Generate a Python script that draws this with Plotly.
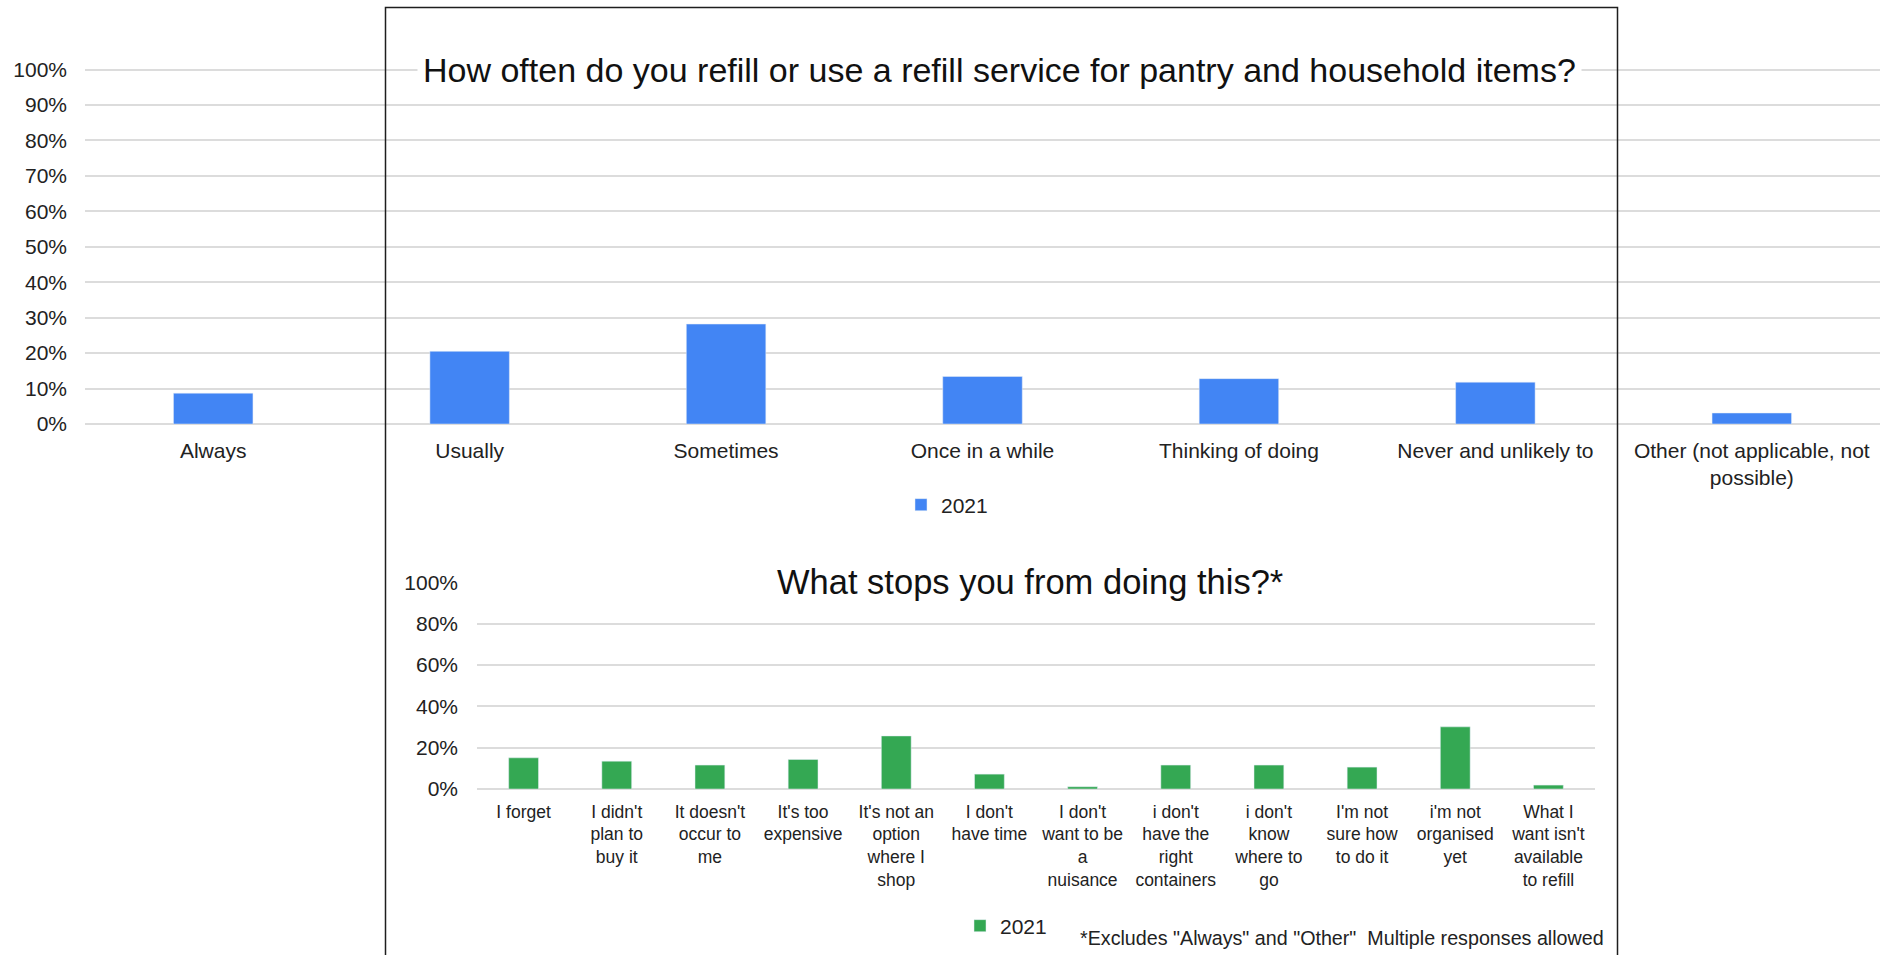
import plotly.graph_objects as go

# ---- data ----
freq_categories = ["Always", "Usually", "Sometimes", "Once in a while", "Thinking of doing",
                   "Never and unlikely to", "Other (not applicable, not<br>possible)"]
freq_2021 = [0.087, 0.205, 0.282, 0.134, 0.128, 0.118, 0.031]

barrier_categories = ["I forget", "I didn't<br>plan to<br>buy it", "It doesn't<br>occur to<br>me",
                      "It's too<br>expensive", "It's not an<br>option<br>where I<br>shop",
                      "I don't<br>have time", "I don't<br>want to be<br>a<br>nuisance",
                      "i don't<br>have the<br>right<br>containers", "i don't<br>know<br>where to<br>go",
                      "I'm not<br>sure how<br>to do it", "i'm not<br>organised<br>yet",
                      "What I<br>want isn't<br>available<br>to refill"]
barrier_2021 = [0.151, 0.135, 0.116, 0.143, 0.257, 0.072, 0.011, 0.116, 0.116, 0.106, 0.301, 0.019]

top_ticks = [0, 0.1, 0.2, 0.3, 0.4, 0.5, 0.6, 0.7, 0.8, 0.9, 1.0]
bottom_ticks = [0, 0.2, 0.4, 0.6, 0.8, 1.0]

W, H = 1885, 955
FONT = "Liberation Sans, Arial, sans-serif"
TXT = "#222222"
GRID = "#dcdcdc"
BLUE = "#4285F4"
GREEN = "#34A853"

def px(x):
    return x / W

def py(y):
    return 1 - y / H

fig = go.Figure()
fig.add_trace(go.Bar(x=freq_categories, y=freq_2021, name="2021", marker_color=BLUE,
                     width=0.31, xaxis="x", yaxis="y", legend="legend"))
fig.add_trace(go.Bar(x=barrier_categories, y=barrier_2021, name="2021", marker_color=GREEN,
                     width=0.32, xaxis="x2", yaxis="y2", legend="legend2"))

axis_common = dict(showline=False, ticks="", automargin=False, fixedrange=True)

fig.update_layout(
    width=W, height=H,
    margin=dict(l=0, r=0, t=0, b=0),
    paper_bgcolor="white", plot_bgcolor="white",
    font=dict(family=FONT, color=TXT),
    xaxis=dict(domain=[px(85), px(1880)], anchor="y", showgrid=False, zeroline=False,
               tickfont=dict(size=21, color=TXT), ticklabelstandoff=12, **axis_common),
    yaxis=dict(domain=[py(424), py(68.5)], anchor="x", range=[0, 1.003],
               tickvals=top_ticks, tickformat=".0%", showgrid=True, gridcolor=GRID, gridwidth=1.5,
               zeroline=True, zerolinecolor=GRID, zerolinewidth=1.5,
               tickfont=dict(size=21, color=TXT), ticklabelstandoff=17, **axis_common),
    xaxis2=dict(domain=[px(477), px(1595)], anchor="y2", showgrid=False, zeroline=False,
                tickfont=dict(size=17.5, color=TXT), ticklabelstandoff=10, tickangle=0,
                **axis_common),
    yaxis2=dict(domain=[py(789), py(581.7)], anchor="x2", range=[0, 1.004],
                tickvals=bottom_ticks, tickformat=".0%", showgrid=True, gridcolor=GRID, gridwidth=1.5,
                zeroline=True, zerolinecolor=GRID, zerolinewidth=1.5,
                tickfont=dict(size=21, color=TXT), ticklabelstandoff=18, **axis_common),
    legend=dict(x=px(901), y=py(505), xanchor="left", yanchor="middle", orientation="h",
                font=dict(size=21, color=TXT), itemwidth=30, bgcolor="rgba(0,0,0,0)"),
    legend2=dict(x=px(960), y=py(926), xanchor="left", yanchor="middle", orientation="h",
                 font=dict(size=21, color=TXT), itemwidth=30, bgcolor="rgba(0,0,0,0)"),
    showlegend=True,
    bargap=0.68,
)

# outer frame around the central part
fig.add_shape(type="rect", xref="paper", yref="paper",
              x0=px(385.5), x1=px(1617.5), y0=-0.05, y1=py(7.5),
              line=dict(color="#1e1e1e", width=1.5), fillcolor="rgba(0,0,0,0)", layer="above")

# chart titles (white background interrupts the top gridline)
fig.add_annotation(text="How often do you refill or use a refill service for pantry and household items?",
                   xref="paper", yref="paper", x=px(999.5), y=py(70), xanchor="center", yanchor="middle",
                   showarrow=False, font=dict(size=34, color="#111111", family=FONT),
                   bgcolor="white", borderpad=5)
fig.add_annotation(text="What stops you from doing this?*",
                   xref="paper", yref="paper", x=px(1030), y=py(582), xanchor="center", yanchor="middle",
                   showarrow=False, font=dict(size=34.5, color="#111111", family=FONT),
                   bgcolor="white", borderpad=7)
fig.add_annotation(text='*Excludes "Always" and "Other"  Multiple responses allowed',
                   xref="paper", yref="paper", x=px(1606), y=py(938), xanchor="right", yanchor="middle",
                   showarrow=False, font=dict(size=19.7, color=TXT, family=FONT))

fig.write_html("out.html")
